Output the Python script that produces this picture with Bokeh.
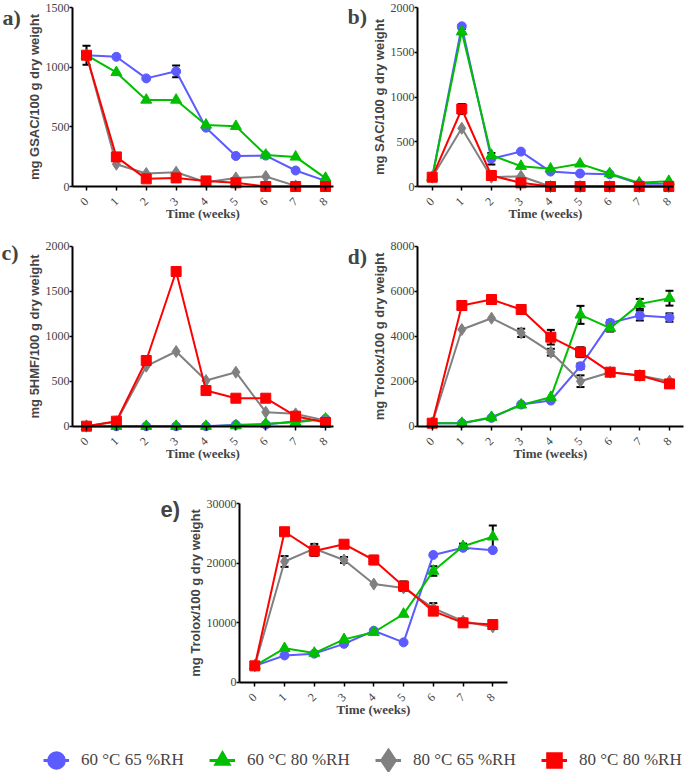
import numpy as np
from math import pi
from bokeh.plotting import figure
from bokeh.models import (ColumnDataSource, FixedTicker, Whisker, TeeHead, Label,
                          Legend, LegendItem, Range1d)
from bokeh.layouts import row, column
from bokeh.embed import file_html
from bokeh.resources import INLINE

# ---------------- data ----------------
weeks = [0, 1, 2, 3, 4, 5, 6, 7, 8]
series_names = ["60 °C 65 %RH", "60 °C 80 %RH", "80 °C 65 %RH", "80 °C 80 %RH"]

# a) GSAC
gsac_60_65 = [1100, 1087, 906, 965, 493, 256, 259, 134, 47]
gsac_60_80 = [1100, 956, 725, 725, 516, 505, 264, 248, 70]
gsac_80_65 = [1100, 187, 109, 120, 36, 72, 84, 5, 5]
gsac_80_80 = [1100, 248, 64, 72, 47, 31, 0, 0, 0]
gsac_err_60_65 = [0, 0, 0, 50, 0, 0, 0, 0, 0]
gsac_err_60_80 = [0, 0, 0, 0, 0, 0, 0, 0, 0]
gsac_err_80_65 = [0, 0, 0, 0, 0, 0, 0, 0, 0]
gsac_err_80_80 = [80, 0, 0, 0, 0, 0, 0, 0, 0]

# b) SAC
sac_60_65 = [104, 1790, 310, 390, 167, 145, 138, 30, 30]
sac_60_80 = [104, 1730, 350, 227, 197, 253, 145, 41, 59]
sac_80_65 = [104, 650, 104, 115, 0, 0, 0, 0, 0]
sac_80_80 = [104, 866, 123, 41, 0, 0, 0, 0, 0]
sac_err_60_65 = [0, 15, 65, 0, 0, 0, 0, 0, 0]
sac_err_60_80 = [0, 30, 0, 0, 0, 0, 0, 0, 0]
sac_err_80_65 = [0, 0, 0, 0, 0, 0, 0, 0, 0]
sac_err_80_80 = [0, 55, 0, 0, 0, 0, 0, 0, 0]

# c) 5HMF
hmf_60_65 = [0, 0, 0, 0, 0, 15, 19, 56, 81]
hmf_60_80 = [0, 0, 0, 0, 0, 7, 26, 44, 81]
hmf_80_65 = [0, 50, 667, 830, 507, 600, 156, 137, 63]
hmf_80_80 = [0, 56, 730, 1719, 396, 311, 311, 111, 41]
hmf_err_none = [0, 0, 0, 0, 0, 0, 0, 0, 0]

# d) Trolox
trd_60_65 = [133, 133, 370, 963, 1141, 2667, 4593, 4918, 4830]
trd_60_80 = [133, 133, 400, 948, 1289, 4948, 4356, 5437, 5689]
trd_80_65 = [133, 4296, 4800, 4148, 3289, 2000, 2400, 2252, 2000]
trd_80_80 = [133, 5363, 5630, 5185, 3956, 3289, 2400, 2252, 1881]
trd_err_60_65 = [0, 0, 0, 0, 0, 120, 110, 220, 185]
trd_err_60_80 = [0, 0, 0, 0, 0, 400, 150, 220, 330]
trd_err_80_65 = [0, 0, 0, 185, 150, 260, 0, 0, 0]
trd_err_80_80 = [0, 185, 0, 185, 325, 220, 150, 150, 150]

# e) Trolox
tre_60_65 = [2750, 4500, 4800, 6450, 8650, 6700, 21400, 22600, 22200]
tre_60_80 = [2750, 5700, 4900, 7200, 8400, 11450, 18700, 22850, 24450]
tre_80_65 = [2750, 20300, 22450, 20550, 16500, 15850, 12450, 10250, 9300]
tre_80_80 = [2750, 25300, 22050, 23200, 20550, 16150, 11950, 9980, 9700]
tre_err_60_65 = [0, 0, 0, 0, 0, 0, 0, 0, 0]
tre_err_60_80 = [0, 0, 0, 0, 0, 0, 800, 450, 1900]
tre_err_80_65 = [0, 900, 800, 500, 0, 0, 850, 0, 0]
tre_err_80_80 = [0, 0, 800, 0, 700, 800, 500, 0, 0]

# ---------------- style ----------------
colors = ["#5b5bff", "#00bf00", "#808080", "#ff0000"]
markers = ["circle", "triangle", "diamond", "square"]
msizes = [9, 11, 12, 10]
legend_strokes = [9, 5, 9, 7]
SERIF = "Liberation Serif"
SANS = "Liberation Sans"


def make_panel(box, geo, y_top, y_ticks, ylabel, values, errors, tag, tag_pos,
               tag_font):
    """box: (left, top, width, height) of the figure on the page.
    geo: (week0_px, px_per_week, yaxis_px, xaxis_end_px, zero_px, top_px)."""
    left, top, width, height = box
    w0, ppw, yax, xend, zero, ytop_px = geo
    ppu = (zero - ytop_px) / y_top
    x_start = (left - w0) / ppw
    x_end = (left + width - w0) / ppw
    y_start = (zero - (top + height)) / ppu
    y_end = (zero - top) / ppu
    yaxis_loc = (yax - w0) / ppw
    xaxis_end = (xend - w0) / ppw

    p = figure(width=width, height=height, x_range=Range1d(x_start, x_end),
               y_range=Range1d(y_start, y_end), output_backend="svg",
               toolbar_location=None, min_border_left=0, min_border_right=0,
               min_border_top=0, min_border_bottom=0)
    p.grid.visible = False
    p.outline_line_color = None
    p.background_fill_color = "white"
    p.border_fill_color = "white"

    for i in range(4):
        src = ColumnDataSource(dict(x=weeks, y=values[i]))
        err = np.array(errors[i], dtype=float)
        val = np.array(values[i], dtype=float)
        mask = err > 0
        if mask.any():
            wsrc = ColumnDataSource(dict(base=np.array(weeks)[mask],
                                         upper=(val + err)[mask],
                                         lower=(val - err)[mask]))
            w = Whisker(base="base", upper="upper", lower="lower", source=wsrc,
                        line_color="black", line_width=2,
                        upper_head=TeeHead(size=8, line_color="black", line_width=2),
                        lower_head=TeeHead(size=8, line_color="black", line_width=2))
            p.add_layout(w)
        p.line("x", "y", source=src, line_color=colors[i], line_width=2)
        p.scatter("x", "y", source=src, marker=markers[i], size=msizes[i],
                  fill_color=colors[i], line_color=colors[i])

    xa = p.xaxis[0]
    xa.fixed_location = 0
    xa.bounds = (yaxis_loc, xaxis_end)
    xa.ticker = FixedTicker(ticks=weeks)
    xa.major_label_orientation = pi / 4
    xa.axis_label = "Time (weeks)"
    xa.axis_label_text_font = SERIF
    xa.axis_label_text_font_style = "bold"
    xa.axis_label_text_font_size = "13px"
    xa.axis_label_standoff = -6
    xa.major_label_text_font = SERIF
    xa.major_label_text_font_size = "12px"
    xa.major_label_standoff = 9
    xa.axis_line_width = 2
    xa.major_tick_line_width = 1.5
    xa.major_tick_out = 4
    xa.major_tick_in = 0
    xa.minor_tick_line_color = None

    ya = p.yaxis[0]
    ya.fixed_location = yaxis_loc
    ya.bounds = (0, y_top)
    ya.ticker = FixedTicker(ticks=y_ticks)
    ya.axis_label = ylabel
    ya.axis_label_text_font = SANS
    ya.axis_label_text_font_style = "bold"
    ya.axis_label_text_font_size = "13px"
    ya.axis_label_standoff = 1
    ya.major_label_text_font = SERIF
    ya.major_label_text_font_size = "12px"
    ya.major_label_standoff = 0
    ya.axis_line_width = 2
    ya.major_tick_line_width = 1.5
    ya.major_tick_out = 3
    ya.major_tick_in = 0
    ya.minor_tick_line_color = None

    # panel tag, placed by its page position converted through the scales
    tx = (tag_pos[0] - w0) / ppw
    ty = (zero - tag_pos[1]) / ppu
    p.add_layout(Label(x=tx, y=ty, text=tag, text_font=tag_font,
                       text_font_style="bold", text_font_size="22px",
                       text_baseline="middle", text_align="left"))
    return p


pa = make_panel((0, 0, 348, 232), (86, 29.875, 72, 333, 186, 7), 1500,
                [0, 500, 1000, 1500], "mg GSAC/100 g dry weight",
                [gsac_60_65, gsac_60_80, gsac_80_65, gsac_80_80],
                [gsac_err_60_65, gsac_err_60_80, gsac_err_80_65, gsac_err_80_80],
                "a)", (2, 17), SERIF)
pb = make_panel((348, 0, 337, 232), (431.7, 29.575, 417, 673, 186, 7), 2000,
                [0, 500, 1000, 1500, 2000], "mg SAC/100 g dry weight",
                [sac_60_65, sac_60_80, sac_80_65, sac_80_80],
                [sac_err_60_65, sac_err_60_80, sac_err_80_65, sac_err_80_80],
                "b)", (347, 16), SERIF)
pc = make_panel((0, 232, 348, 238), (86, 29.875, 72, 333, 425.7, 245.7), 2000,
                [0, 500, 1000, 1500, 2000], "mg 5HMF/100 g dry weight",
                [hmf_60_65, hmf_60_80, hmf_80_65, hmf_80_80],
                [hmf_err_none, hmf_err_none, hmf_err_none, hmf_err_none],
                "c)", (1, 252), SERIF)
pd = make_panel((348, 232, 337, 238), (431.7, 29.66, 417, 683, 425.7, 245.7), 8000,
                [0, 2000, 4000, 6000, 8000], "mg Trolox/100 g dry weight",
                [trd_60_65, trd_60_80, trd_80_65, trd_80_80],
                [trd_err_60_65, trd_err_60_80, trd_err_80_65, trd_err_80_80],
                "d)", (347, 256), SERIF)
pe = make_panel((0, 470, 685, 265), (254.3, 29.75, 239, 507, 681.7, 503.3), 30000,
                [0, 10000, 20000, 30000], "mg Trolox/100 g dry weight",
                [tre_60_65, tre_60_80, tre_80_65, tre_80_80],
                [tre_err_60_65, tre_err_60_80, tre_err_80_65, tre_err_80_80],
                "e)", (160, 509), SANS)

# legend figure (its renderers lie outside its visible range)
pl = figure(width=685, height=43, output_backend="svg", toolbar_location=None,
            x_axis_location=None, y_axis_location=None,
            x_range=Range1d(-20, -10), y_range=Range1d(-20, -10),
            min_border_left=0, min_border_right=0, min_border_top=0,
            min_border_bottom=0)
pl.grid.visible = False
pl.outline_line_color = None
legend_values = [tre_60_65, tre_60_80, tre_80_65, tre_80_80]
items = []
for i in range(4):
    lsrc = ColumnDataSource(dict(x=weeks, y=legend_values[i]))
    r1 = pl.line("x", "y", source=lsrc, line_color=colors[i], line_width=3)
    r2 = pl.scatter("x", "y", source=lsrc, marker=markers[i], size=10,
                    fill_color=colors[i], line_color=colors[i],
                    line_width=legend_strokes[i], line_join="miter")
    items.append(LegendItem(label=series_names[i], renderers=[r1, r2]))
leg = Legend(items=items, location=(43, 6), orientation="horizontal",
             padding=0, margin=0, spacing=25, glyph_width=26, glyph_height=24,
             label_standoff=12, label_width=103,
             label_text_font=SERIF, label_text_font_size="17px",
             border_line_color=None, background_fill_alpha=0)
pl.add_layout(leg)

layout = column(row(pa, pb), row(pc, pd), row(pe), row(pl))
open("out.html", "w").write(file_html(layout, INLINE))
